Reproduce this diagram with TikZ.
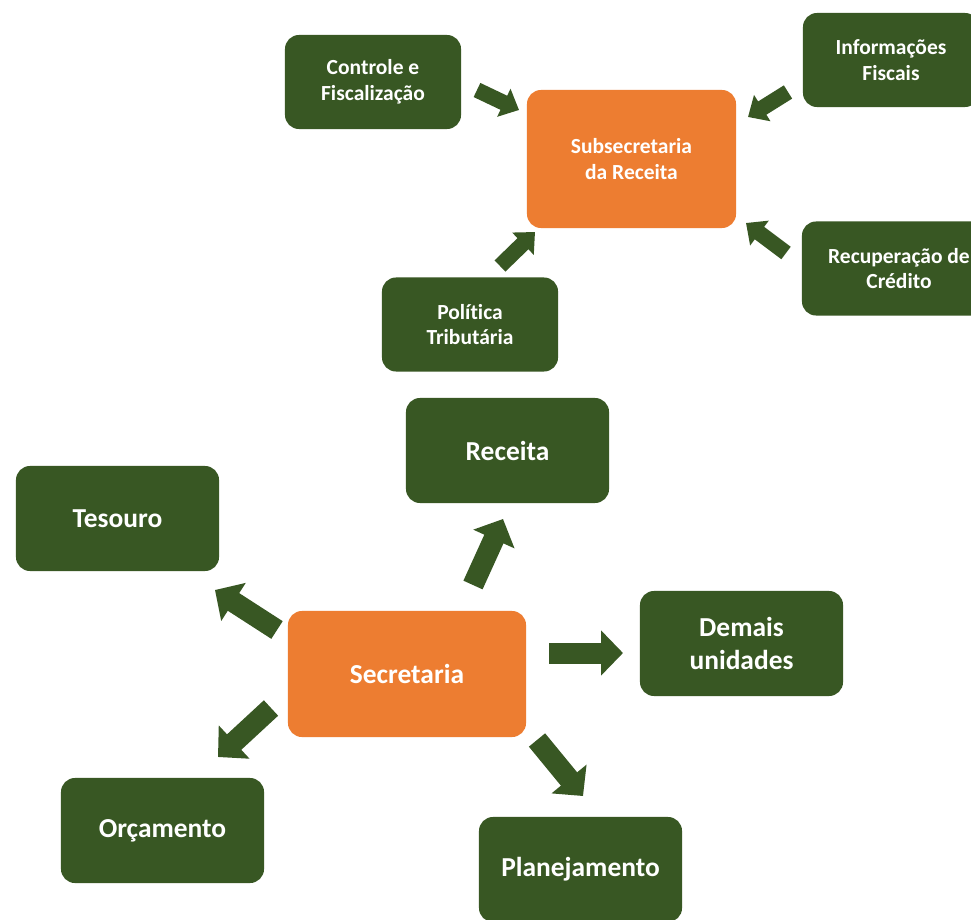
\documentclass[tikz,border=0pt]{standalone}
\usepackage{fontspec}
\setmainfont{Carlito}[Ligatures = NoCommon]
\usetikzlibrary{arrows.meta}
\usetikzlibrary{positioning}
\definecolor{mgreen}{HTML}{385723}
\definecolor{morange}{HTML}{ED7D31}
\tikzset{box/.style = {rounded corners = 0.35cm, text = white, align = center,
                       font = \bfseries, inner sep = 2pt}}
\tikzset{smallbox/.style = {box, fill = mgreen, minimum width = 4.4cm, minimum height = 2.35cm,
                            font = \bfseries\fontsize{15.3}{18.4}\selectfont}}
\tikzset{bigbox/.style = {box, fill = mgreen, minimum width = 5.075cm, minimum height = 2.625cm,
                          font = \bfseries\fontsize{19.5}{24}\selectfont}}
\tikzset{sarrow/.style = {mgreen, line width = 0.39cm, -{Triangle[width = 0.75cm, length = 0.42cm]}}}
\tikzset{barrow/.style = {mgreen, line width = 0.525cm, -{Triangle[width = 1.1cm, length = 0.55cm]}}}

\begin{document}
\begin{tikzpicture}[x = 0.025cm, y = -0.025cm]
          \clip (0, 0) rectangle (971, 919);
          \fill [white] (0, 0) rectangle (971, 919);
          % Subsecretaria e suas unidades
          \node [box, fill = morange, minimum width = 5.225cm, minimum height = 3.45cm,
                 font = \bfseries\fontsize{15.3}{18.4}\selectfont] (sub) at (631.5, 159)
                {Subsecretaria\\da Receita};
          \node [smallbox] (ctrl) at (373, 82) {Controle e\\Fiscalização};
          \node [smallbox] (info) at (891, 60) {Informações\\Fiscais};
          \node [smallbox, minimum width = 4.85cm] (recup) at (899, 268.5) {Recuperação de\\Crédito};
          \node [smallbox] (pol) at (470, 324.5) {Política\\Tributária};
          % Secretaria e suas unidades
          \node [box, fill = morange, minimum width = 5.95cm, minimum height = 3.15cm,
                 font = \bfseries\fontsize{19.5}{24}\selectfont] (sec) at (407, 674) {Secretaria};
          \node [bigbox] (rec) at (507.5, 450.5) {Receita};
          \node [bigbox] (tes) at (117.5, 518.5) {Tesouro};
          \node [bigbox] (dem) at (741.5, 643.5) {Demais\\unidades};
          \node [bigbox] (orc) at (162.5, 830.5) {Orçamento};
          \node [bigbox] (plan) at (580.5, 869.5) {Planejamento};
          % pontas das setas
          \coordinate (ctrl-a) at (477, 90);   \coordinate (ctrl-b) at (519, 110);
          \coordinate (info-a) at (788, 92);   \coordinate (info-b) at (748, 117);
          \coordinate (recup-a) at (786, 253); \coordinate (recup-b) at (746, 223);
          \coordinate (pol-a) at (500, 266);   \coordinate (pol-b) at (535, 232);
          \coordinate (rec-a) at (473, 585);   \coordinate (rec-b) at (503, 519);
          \coordinate (dem-a) at (549, 653);   \coordinate (dem-b) at (623, 653);
          \coordinate (plan-a) at (537, 740);  \coordinate (plan-b) at (583, 796);
          \coordinate (tes-a) at (277, 630);   \coordinate (tes-b) at (215, 590);
          \coordinate (orc-a) at (271, 708);   \coordinate (orc-b) at (218, 757);
          \foreach \n in {ctrl, info, recup, pol}{
            \draw [sarrow] (\n-a) -- (\n-b);
          }
          \foreach \n in {rec, dem, plan, tes, orc}{
            \draw [barrow] (\n-a) -- (\n-b);
          }
        \end{tikzpicture}
\end{document}
